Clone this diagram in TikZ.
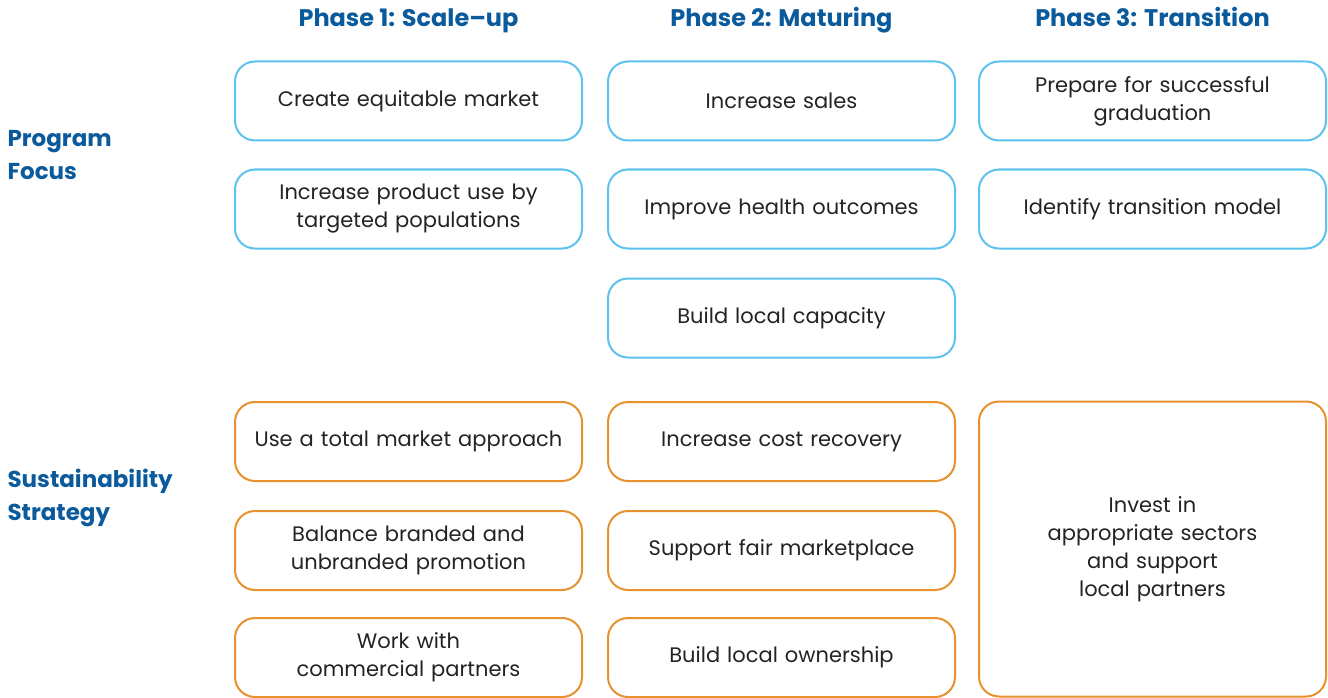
\documentclass[tikz,border=0pt]{standalone}
\usepackage{fontspec}
\setmainfont{Poppins}
\usepackage{tikz}
\definecolor{hblue}{RGB}{10,90,156}
\definecolor{lblue}{RGB}{94,194,238}
\definecolor{morange}{RGB}{232,146,46}
\definecolor{ink}{RGB}{35,35,35}
\tikzset{
  pbox/.style={draw=lblue,line width=2pt,rounded corners=20pt,minimum width=347pt,minimum height=79pt,
    text width=330pt,align=center,font=\fontsize{21}{28}\selectfont,text=ink},
  sbox/.style={pbox,draw=morange},
  phase/.style={anchor=base,font=\fontsize{24}{28}\selectfont\bfseries,text=hblue},
  rowlab/.style={anchor=west,align=left,font=\fontsize{23}{33}\selectfont\bfseries,text=hblue},
}

\begin{document}
\begin{tikzpicture}[x=1pt,y=-1pt]
\useasboundingbox (0,0) rectangle (1328,698);
% column heads
\node[phase] (h1) at (408.5,27) {Phase 1: Scale--up};
\node[phase] (h2) at (781.5,27) {Phase 2: Maturing};
\node[phase] (h3) at (1152.5,27) {Phase 3: Transition};
% row labels
\node[rowlab] (lpf) at (4,155) {Program\\Focus};
\node[rowlab] (lss) at (4,498) {Sustainability\\Strategy};
% program focus
\node[pbox] (p11) at (408.5,101) {Create equitable market};
\node[pbox] (p12) at (408.5,209) {Increase product use by\\targeted populations};
\node[pbox] (p21) at (781.5,101) {Increase sales};
\node[pbox] (p22) at (781.5,209) {Improve health outcomes};
\node[pbox] (p23) at (781.5,318) {Build local capacity};
\node[pbox] (p31) at (1152.5,101) {Prepare for successful\\graduation};
\node[pbox] (p32) at (1152.5,209) {Identify transition model};
% sustainability strategy
\node[sbox] (s11) at (408.5,441.5) {Use a total market approach};
\node[sbox] (s12) at (408.5,550.5) {Balance branded and\\unbranded promotion};
\node[sbox] (s13) at (408.5,657.5) {Work with\\commercial partners};
\node[sbox] (s21) at (781.5,441.5) {Increase cost recovery};
\node[sbox] (s22) at (781.5,550.5) {Support fair marketplace};
\node[sbox] (s23) at (781.5,657.5) {Build local ownership};
\node[sbox,minimum height=295pt] (s31) at (1152.5,549) {Invest in\\appropriate sectors\\and support\\local partners};
\end{tikzpicture}
\end{document}
